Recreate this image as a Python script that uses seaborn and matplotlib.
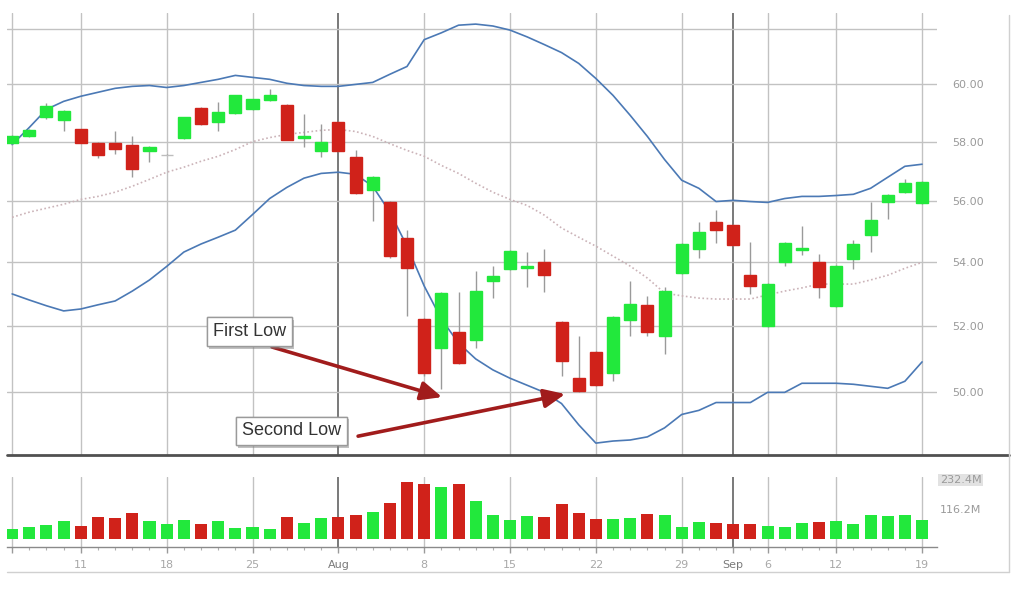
import numpy as np
import pandas as pd
import matplotlib
matplotlib.use("Agg")
import matplotlib.pyplot as plt
import seaborn as sns
from matplotlib import patheffects
from matplotlib.lines import Line2D
from matplotlib.ticker import FixedLocator, FixedFormatter, NullLocator

# ---------------- data ----------------
dates = pd.bdate_range("2011-07-05", "2011-09-19", freq="C", holidays=["2011-09-05"])

opens = [57.97, 58.18, 58.84, 58.74, 58.42, 57.97, 57.97, 57.90, 57.69, 57.56,
         58.11, 59.16, 58.67, 58.98, 59.12, 59.44, 59.26, 58.11, 57.69, 58.67,
         57.49, 56.37, 55.98, 54.77, 52.22, 51.33, 51.82, 51.58, 53.41, 53.78,
         53.81, 54.00, 52.12, 50.42, 51.21, 50.58, 52.19, 52.66, 51.70, 53.66,
         54.42, 55.32, 55.22, 53.59, 52.00, 54.00, 54.39, 54.00, 52.62, 54.10,
         54.87, 55.95, 56.29, 55.92]
highs = [58.22, 58.42, 59.33, 59.08, 58.45, 58.00, 58.35, 58.18, 57.86, 57.58,
         58.86, 59.19, 59.37, 59.64, 59.50, 59.82, 59.29, 58.95, 58.60, 58.70,
         57.73, 56.84, 56.00, 55.06, 52.25, 53.06, 53.06, 53.72, 53.87, 54.39,
         54.32, 54.42, 52.15, 51.70, 51.24, 52.31, 53.41, 52.94, 53.22, 54.61,
         55.32, 55.70, 55.25, 54.64, 53.34, 54.64, 55.19, 54.26, 53.90, 54.71,
         55.98, 56.22, 56.73, 56.66]
lows = [57.93, 58.15, 58.80, 58.35, 57.94, 57.45, 57.59, 56.81, 57.32, 57.54,
        58.08, 58.57, 58.35, 58.95, 59.10, 59.42, 58.04, 57.83, 57.46, 57.66,
        56.24, 55.35, 54.15, 52.31, 50.50, 50.09, 50.85, 51.33, 52.87, 53.75,
        53.22, 53.06, 50.48, 50.00, 50.18, 50.33, 51.70, 51.70, 51.15, 53.63,
        54.13, 54.61, 54.52, 53.00, 51.97, 53.87, 54.22, 52.87, 52.59, 53.78,
        54.32, 55.41, 56.26, 55.90]
closes = [58.18, 58.39, 59.23, 59.05, 57.97, 57.53, 57.76, 57.08, 57.83, 57.56,
          58.84, 58.60, 59.02, 59.61, 59.47, 59.61, 58.07, 58.18, 58.00, 57.69,
          56.27, 56.81, 54.19, 53.81, 50.58, 53.03, 50.88, 53.09, 53.56, 54.36,
          53.87, 53.59, 50.94, 50.03, 50.21, 52.28, 52.69, 51.82, 53.09, 54.58,
          54.98, 55.06, 54.55, 53.25, 53.31, 54.61, 54.45, 53.22, 53.87, 54.58,
          55.38, 56.19, 56.59, 56.63]
volume_m = [40, 45, 53, 71, 52, 86, 83, 102, 70, 59,
            75, 59, 70, 43, 45, 39, 84, 62, 81, 85,
            93, 106, 138, 221, 213, 200, 213, 148, 92, 75,
            90, 85, 136, 101, 79, 77, 80, 97, 92, 45,
            65, 62, 59, 59, 50, 46, 62, 67, 68, 59,
            92, 88, 94, 75]
bb_upper = [57.90, 58.49, 59.12, 59.40, 59.58, 59.72, 59.86, 59.93, 59.96, 59.89,
            59.96, 60.07, 60.18, 60.32, 60.25, 60.18, 60.04, 59.96, 59.93, 59.93,
            60.00, 60.07, 60.36, 60.64, 61.61, 61.86, 62.14, 62.18, 62.11, 61.96,
            61.71, 61.43, 61.14, 60.75, 60.21, 59.61, 58.91, 58.18, 57.39, 56.69,
            56.42, 55.98, 56.02, 55.98, 55.95, 56.08, 56.15, 56.15, 56.18, 56.22,
            56.42, 56.79, 57.16, 57.23]
bb_middle = [55.46, 55.63, 55.76, 55.89, 56.05, 56.15, 56.29, 56.49, 56.72, 56.96,
             57.13, 57.33, 57.50, 57.73, 58.00, 58.14, 58.25, 58.32, 58.39, 58.42,
             58.35, 58.18, 57.93, 57.70, 57.50, 57.19, 56.92, 56.59, 56.29, 56.05,
             55.85, 55.53, 55.11, 54.81, 54.52, 54.20, 53.88, 53.50, 53.03, 52.94,
             52.87, 52.84, 52.84, 52.84, 52.97, 53.09, 53.19, 53.31, 53.31, 53.31,
             53.44, 53.59, 53.81, 54.00]
bb_lower = [53.00, 52.81, 52.63, 52.47, 52.53, 52.66, 52.78, 53.09, 53.44, 53.87,
            54.33, 54.59, 54.81, 55.04, 55.55, 56.08, 56.45, 56.76, 56.92, 56.96,
            56.89, 56.49, 55.63, 54.52, 53.25, 52.22, 51.48, 51.00, 50.67, 50.42,
            50.21, 50.00, 49.67, 49.05, 48.52, 48.58, 48.61, 48.70, 48.96, 49.35,
            49.47, 49.70, 49.70, 49.70, 50.00, 50.00, 50.27, 50.27, 50.27, 50.24,
            50.18, 50.12, 50.33, 50.91]
price_ticks = [50, 52, 54, 56, 58, 60, 62]
volume_ticks = [116.2, 232.4]
volume_tick_labels = ["116.2M", "232.4M"]
notes = ["First Low", "Second Low"]

# ---------------- style ----------------
sns.set_theme(style="white")
plt.rcParams['font.family'] = ['DejaVu Sans']

GREEN = "#22e83c"
RED = "#d0221a"
GRID = "#c2c2c2"
DARKGRID = "#6e6e6e"

n = len(dates)
idx = np.arange(n)
o = np.array(opens); c = np.array(closes)
h = np.array(highs); l = np.array(lows)
up = c >= o
body_colors = [("#bdbdbd" if oo == cc else (GREEN if u else RED)) for oo, cc, u in zip(o, c, up)]

fig = plt.figure(figsize=(10.2, 5.99), dpi=100)
W, H = 1020.0, 599.0
ax = fig.add_axes([7 / W, 1 - 455 / H, (937 - 7) / W, (455 - 13) / H])
axv = fig.add_axes([7 / W, 1 - 547 / H, (937 - 7) / W, (547 - 477) / H], sharex=ax)

# week / month ticks from dates
grid_idx, grid_lab, month_start = [], [], []
for i in range(n):
    new_week = i == 0 or dates[i].isocalendar()[1] != dates[i - 1].isocalendar()[1]
    new_month = i > 0 and dates[i].month != dates[i - 1].month
    if new_week or new_month:
        grid_idx.append(i)
        if new_month:
            grid_lab.append(dates[i].strftime("%b"))
            month_start.append(True)
        else:
            grid_lab.append("" if i == 0 else str(dates[i].day))
            month_start.append(False)

# ---------------- price panel ----------------
ax.set_yscale('log')
ax.set_ylim(48.18, 62.59)
ax.set_xlim(-0.3, 53.87)
ax.yaxis.set_major_locator(FixedLocator(price_ticks))
ax.yaxis.set_major_formatter(FixedFormatter([f"{t:.2f}" if t < 62 else "" for t in price_ticks]))
ax.yaxis.set_minor_locator(NullLocator())
ax.yaxis.tick_right()
ax.tick_params(axis='y', length=0, pad=11, labelsize=8, labelcolor="#9a9a9a")
ax.tick_params(axis='x', which='both', bottom=False, labelbottom=False)
ax.yaxis.grid(True, color=GRID, lw=1)
ax.xaxis.grid(False)
for s in ax.spines.values():
    s.set_visible(False)
for gi, ms in zip(grid_idx, month_start):
    ax.axvline(gi, color=DARKGRID if ms else GRID, lw=1.3 if ms else 1, zorder=0.5)

# bands
sns.lineplot(x=idx, y=bb_upper, ax=ax, color="#4b79b5", lw=1.2, zorder=2)
sns.lineplot(x=idx, y=bb_lower, ax=ax, color="#4b79b5", lw=1.2, zorder=2)
sns.lineplot(x=idx, y=bb_middle, ax=ax, color="#cbb3b8", lw=1.2, zorder=2,
             linestyle=(0, (1, 1.5)))

# candles
ax.vlines(idx, l, h, color="#9a9a9a", lw=1, zorder=3)
bottoms = np.minimum(o, c)
heights = np.abs(c - o)
ax.bar(idx, heights, bottom=bottoms, width=0.7, color=body_colors,
       edgecolor=body_colors, lw=1, zorder=4)

# annotations
def note(text, xy_text, tip, start):
    t = ax.text(*xy_text, text, ha='center', va='center', fontsize=13,
                family=['Liberation Sans', 'DejaVu Sans'], color="#333333", zorder=6,
                bbox=dict(boxstyle='square,pad=0.33', fc='white', ec='#9a9a9a', lw=1))
    t.get_bbox_patch().set_path_effects([
        patheffects.withSimplePatchShadow(offset=(2, -2), shadow_rgbFace='#777777', alpha=0.45),
        patheffects.Normal()])
    ax.annotate('', xy=tip, xytext=start, zorder=5,
                arrowprops=dict(arrowstyle='-|>,head_length=0.85,head_width=0.38',
                                mutation_scale=15, lw=2.6, color="#a11c1c",
                                shrinkA=0, shrinkB=0))

note(notes[0], (13.80, 51.83), (25.04, 49.86), (15.14, 51.36))
note(notes[1], (16.25, 48.87), (32.21, 49.95), (20.15, 48.72))

# ---------------- volume panel ----------------
vol_df = pd.DataFrame({"i": idx, "vol": volume_m,
                       "dir": np.where(up, "up", "down")})
sns.barplot(data=vol_df, x="i", y="vol", hue="dir", native_scale=True, dodge=False,
            palette={"up": GREEN, "down": RED}, width=0.7, saturation=1,
            legend=False, ax=axv, zorder=3, edgecolor='none')
axv.set_xlim(-0.3, 53.87)
axv.set_ylim(-31, 240.1)
axv.set_xlabel(""); axv.set_ylabel("")
axv.yaxis.tick_right()
axv.set_yticks(volume_ticks)
axv.set_yticklabels(volume_tick_labels)
axv.tick_params(axis='y', length=0, pad=2, labelsize=8, labelcolor="#9a9a9a")
axv.yaxis.get_ticklabels()[1].set_bbox(dict(fc='#e2e2e2', ec='none', pad=1))
for name, s in axv.spines.items():
    s.set_visible(name == 'bottom')
axv.spines['bottom'].set_color("#8a8a8a")
axv.spines['bottom'].set_linewidth(1)
for gi, ms in zip(grid_idx, month_start):
    axv.axvline(gi, color=DARKGRID if ms else GRID, lw=1.3 if ms else 1, zorder=0.5)
axv.set_xticks(grid_idx)
axv.set_xticklabels(grid_lab)
axv.set_xticks(idx, minor=True)
axv.tick_params(axis='x', which='major', bottom=True, length=4, width=1, color="#9a9a9a",
                pad=5, labelsize=8, labelcolor="#a8a8a8")
axv.tick_params(axis='x', which='minor', bottom=True, length=2.5, width=0.8, color="#b0b0b0")
for lab, ms in zip(axv.get_xticklabels(), month_start):
    if ms:
        lab.set_color("#7a7a7a")

# frame lines
fig.add_artist(Line2D([7 / W, 1009 / W], [1 - 455 / H, 1 - 455 / H], color="#505050", lw=2))
fig.add_artist(Line2D([1009 / W, 1009 / W], [1 - 15 / H, 1 - 572 / H], color="#d0d0d0", lw=1))
fig.add_artist(Line2D([7 / W, 1009 / W], [1 - 572 / H, 1 - 572 / H], color="#d0d0d0", lw=1))

fig.savefig("out.png", dpi=100, facecolor="white")
